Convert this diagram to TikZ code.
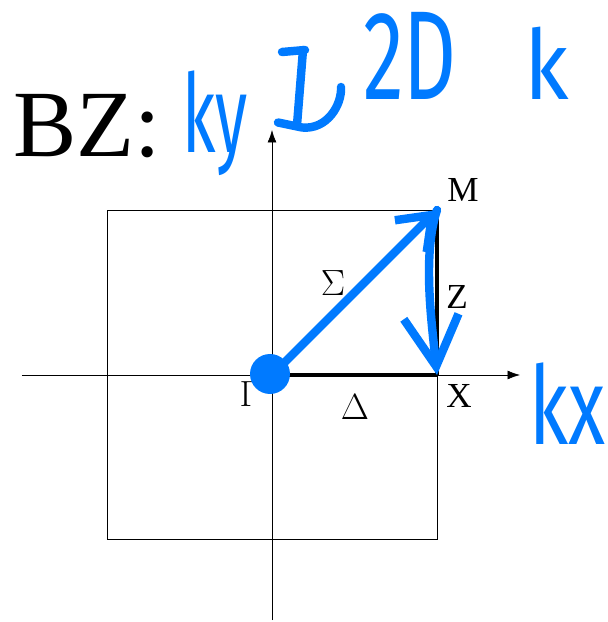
\documentclass[tikz,border=0pt]{standalone}
\usepackage{fontspec}
\setmainfont{Liberation Serif}
\newfontfamily\penfont{Fira Sans}
\usepackage{xcolor}
\usetikzlibrary{positioning, arrows.meta}
\definecolor{pen}{RGB}{0,122,255}

\begin{document}
\begin{tikzpicture}[
    axis/.style={thin, -{Latex[length=2.5mm, width=1.8mm]}},
    zone/.style={thin},
    path/.style={line width=1.8pt},
    lbl/.style={font=\fontsize{20}{22}\selectfont},
    ink/.style={pen, line width=4.8pt, line cap=round, line join=round},
    inktxt/.style={pen, inner sep=0pt, font=\penfont\fontsize{#1}{#1}\selectfont},
]
\useasboundingbox (-5.44, -4.94) rectangle (6.72, 7.5);

% high-symmetry points
\coordinate (G) at (0, 0);
\coordinate (X) at (3.3, 0);
\coordinate (M) at (3.3, 3.3);
\coordinate (xl) at (-5.0, 0);
\coordinate (xr) at (4.96, 0);
\coordinate (yb) at (0, -4.9);
\coordinate (yt) at (0, 4.9);

% zone and axes
\draw[zone] (-3.3, -3.28) rectangle (3.3, 3.3);
\draw[axis] (xl) -- (xr);
\draw[axis] (yb) -- (yt);

% path through the zone
\draw[path] (G) -- (X);
\draw[path] (X) -- (M);
\draw[path] (G) -- (M);

% labels
\node[lbl] (lM) at (3.82, 3.7) {M};
\node[lbl] (lX) at (3.74, -0.42) {X};
\node[lbl] (lZ) at (3.7, 1.56) {Z};
\node[lbl] (lS) at (1.22, 1.84) {$\Sigma$};
\node[lbl] (lD) at (1.66, -0.64) {$\Delta$};
\node[lbl] (lG) at (-0.44, -0.38) {$\Gamma$};
\node[font=\fontsize{54}{58}\selectfont] (bz) at (-3.7, 4.98) {BZ:};

% handwritten notes
\fill[pen] (-0.04, 0.02) circle (0.4);
\draw[ink, -{Straight Barb[length=6mm, width=9mm]}] (G) -- (M);
\draw[ink, -{Straight Barb[length=10mm, width=11mm]}] (M) .. controls (3.0, 2.4) and (3.2, 1.0) .. (X);
\node[inktxt=62, anchor=base, xscale=0.6] (ky) at (-1.14, 4.45) {ky};
\draw[ink] (0.2, 6.46) -- (0.66, 6.5);
\draw[ink] (0.62, 6.5) -- (0.5, 5.0);
\draw[ink] (0.12, 5.05) -- (0.6, 4.95) .. controls (1.1, 4.9) and (1.4, 5.4) .. (1.38, 5.76);
\node[inktxt=72, xscale=0.65] (twoD) at (2.76, 6.38) {2D};
\node[inktxt=55, xscale=0.9] (k) at (5.5, 6.24) {k};
\node[inktxt=62, anchor=base west, xscale=0.7] (kx) at (5.14, -1.4) {kx};
\end{tikzpicture}
\end{document}
